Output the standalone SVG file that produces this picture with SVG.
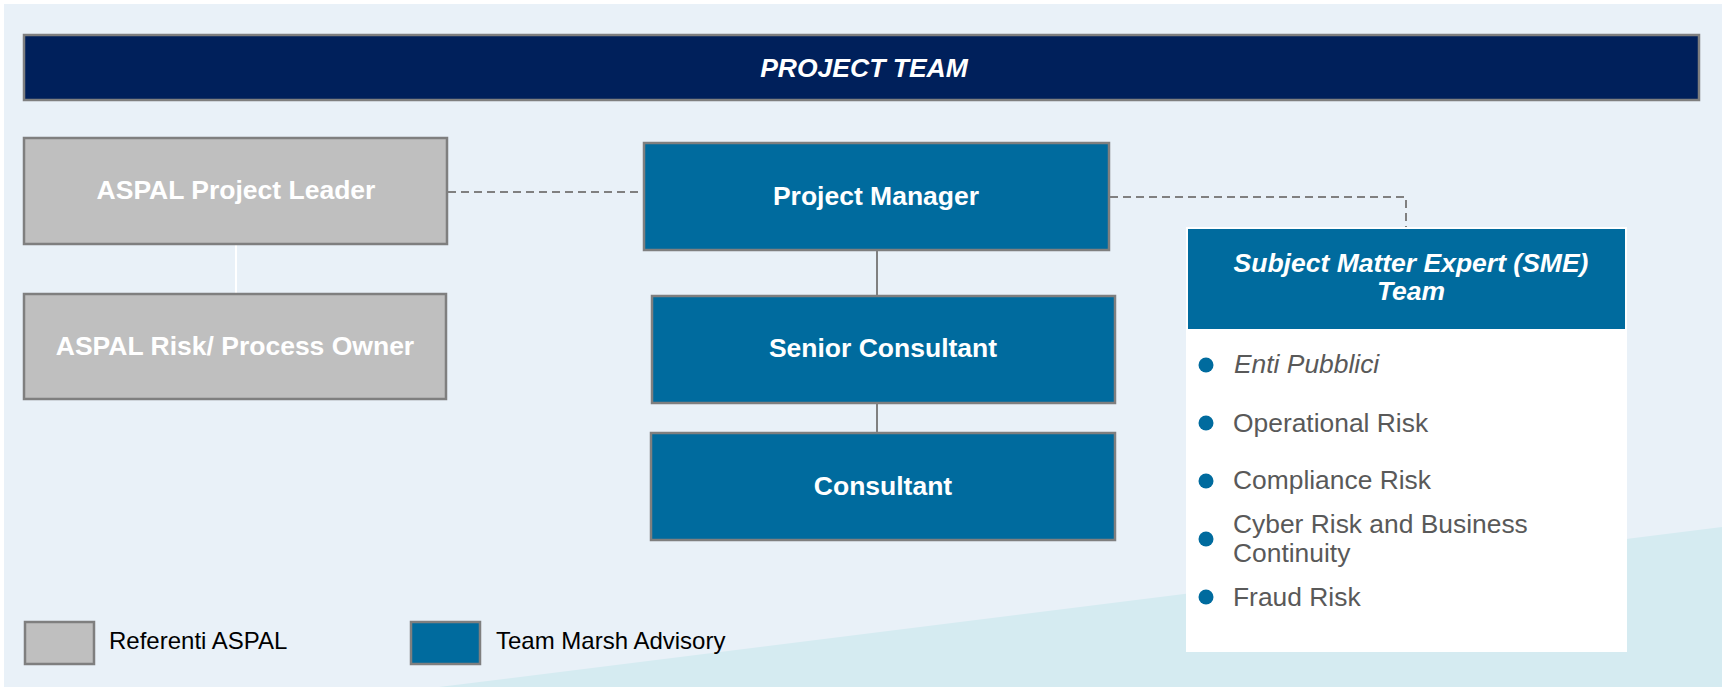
<svg xmlns="http://www.w3.org/2000/svg" width="1727" height="687" viewBox="0 0 1727 687">
<style>
.box{stroke:#7F7F7F;stroke-width:2.5}
.gray{fill:#BFBFBF}
.blue{fill:#006B9E}
.bt{font-family:"Liberation Sans",Arial,sans-serif;font-weight:bold;font-size:26.5px;fill:#FFFFFF;text-anchor:middle}
.li{font-family:"Liberation Sans",Arial,sans-serif;font-size:26.4px;fill:#595959}
.lg{font-family:"Liberation Sans",Arial,sans-serif;font-size:24px;fill:#000000}
.dash{fill:none;stroke:#808080;stroke-width:2;stroke-dasharray:8 5}
.solid{fill:none;stroke:#808080;stroke-width:2}
.dot{fill:#006B9E}
</style>
<rect x="0" y="0" width="1727" height="687" fill="#FFFFFF"/>
<rect x="4" y="4" width="1718" height="683" fill="#E9F1F8"/>
<polygon points="439,687 1722,527 1722,687" fill="#D5EBF1"/>

<g id="title">
<rect class="box" x="24" y="35" width="1675" height="65" fill="#00205B"/>
<text x="864" y="77" class="bt" font-style="italic" font-size="27.5">PROJECT TEAM</text>
</g>

<g id="connectors">
<line x1="236" y1="245" x2="236" y2="293" stroke="#FFFFFF" stroke-width="2"/>
<line class="dash" x1="448" y1="192" x2="643" y2="192"/>
<polyline class="dash" points="1110,197 1406,197 1406,227"/>
<line class="solid" x1="877" y1="251" x2="877" y2="295"/>
<line class="solid" x1="877" y1="404" x2="877" y2="432"/>
</g>

<g id="aspal-project-leader">
<rect class="box gray" x="24" y="138" width="423" height="106"/>
<text x="236" y="199" class="bt">ASPAL Project Leader</text>
</g>

<g id="aspal-risk-owner">
<rect class="box gray" x="24" y="294" width="422" height="105"/>
<text x="235" y="355" class="bt">ASPAL Risk/ Process Owner</text>
</g>

<g id="project-manager">
<rect class="box blue" x="644" y="143" width="465" height="107"/>
<text x="876" y="205" class="bt">Project Manager</text>
</g>

<g id="senior-consultant">
<rect class="box blue" x="652" y="296" width="463" height="107"/>
<text x="883" y="357" class="bt">Senior Consultant</text>
</g>

<g id="consultant">
<rect class="box blue" x="651" y="433" width="464" height="107"/>
<text x="883" y="495" class="bt">Consultant</text>
</g>

<g id="sme-team">
<rect x="1186" y="227" width="441" height="425" fill="#FFFFFF"/>
<rect x="1188" y="229" width="437" height="100" fill="#006B9E"/>
<text x="1411" y="272" class="bt" font-style="italic">Subject Matter Expert (SME)</text>
<text x="1411" y="300" class="bt" font-style="italic">Team</text>
<circle class="dot" cx="1206" cy="365" r="7.5"/>
<text x="1234" y="373" class="li" font-style="italic">Enti Pubblici</text>
<circle class="dot" cx="1206" cy="423" r="7.5"/>
<text x="1233" y="432" class="li">Operational Risk</text>
<circle class="dot" cx="1206" cy="481" r="7.5"/>
<text x="1233" y="489" class="li">Compliance Risk</text>
<circle class="dot" cx="1206" cy="539" r="7.5"/>
<text x="1233" y="533" class="li">Cyber Risk and Business</text>
<text x="1233" y="562" class="li">Continuity</text>
<circle class="dot" cx="1206" cy="597" r="7.5"/>
<text x="1233" y="606" class="li">Fraud Risk</text>
</g>

<g id="legend-aspal">
<rect class="box gray" x="25" y="622" width="69" height="42"/>
<text x="109" y="649" class="lg">Referenti ASPAL</text>
</g>

<g id="legend-marsh">
<rect class="box blue" x="411" y="622" width="69" height="42"/>
<text x="496" y="649" class="lg">Team Marsh Advisory</text>
</g>
</svg>
